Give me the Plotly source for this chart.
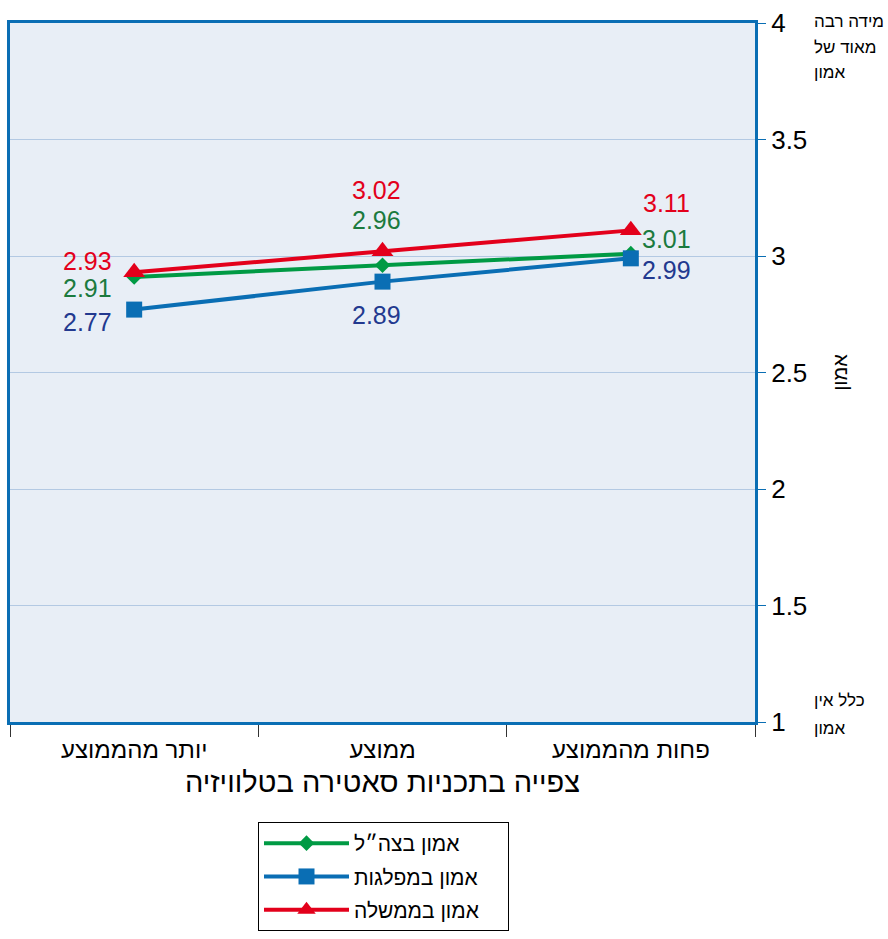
import plotly.graph_objects as go

# ---- data ----
categories = ["יותר מהממוצע", "ממוצע", "פחות מהממוצע"]
series_names = ["אמון בצה״ל", "אמון במפלגות", "אמון בממשלה"]
army_values = [2.91, 2.96, 3.01]
parties_values = [2.77, 2.89, 2.99]
government_values = [2.93, 3.02, 3.11]
y_tick_values = [1, 1.5, 2, 2.5, 3, 3.5, 4]
y_tick_labels = ["1", "1.5", "2", "2.5", "3", "3.5", "4"]
x_title = "צפייה בתכניות סאטירה בטלוויזיה"
y_title = "אמון"
top_note_lines = ["מידה רבה", "מאוד של", "אמון"]
bottom_note_lines = ["כלל אין", "אמון"]

# ---- styles ----
FONT = "Liberation Sans, Arial, sans-serif"
W, H = 888, 939
ML, MR, MT, MB = 10, 133, 23, 217
PW, PH = W - ML - MR, H - MT - MB
LEGEND_PAD = "\u00a0" * 4

styles = [
    dict(line="#009a44", label="#1b7a3e", symbol="diamond", size=12,
         offsets=[(-47, -11), (-6, 45), (36, 15)]),
    dict(line="#0a6eb4", label="#22398f", symbol="square", size=16,
         offsets=[(-47, -12), (-6, -33), (36, -12)]),
    dict(line="#e3001b", label="#e3001b", symbol="triangle-up", size=19,
         offsets=[(-47, 11), (-6, 61), (36, 27)]),
]
all_values = [army_values, parties_values, government_values]


def px_to_paper(px, py):
    return (px - ML) / PW, (H - MB - py) / PH


fig = go.Figure()
annotations = []
for name, vals, st in zip(series_names, all_values, styles):
    fig.add_trace(go.Scatter(
        x=categories, y=vals, name=name + LEGEND_PAD, mode="lines+markers",
        line=dict(color=st["line"], width=4),
        marker=dict(symbol=st["symbol"], size=st["size"], color=st["line"]),
        legendgroup=name,
    ))
    for c, v, (dx, dy) in zip(categories, vals, st["offsets"]):
        annotations.append(dict(
            x=c, y=v, xref="x", yref="y", text=f"{v:.2f}", showarrow=False,
            xshift=dx, yshift=dy, font=dict(family=FONT, size=25, color=st["label"]),
        ))

note_x = 812
for line, cy in zip(top_note_lines, [21, 47, 72]):
    px, py = px_to_paper(note_x, cy)
    annotations.append(dict(
        x=px, y=py, xref="paper", yref="paper", xanchor="left", yanchor="middle",
        text=line, showarrow=False, font=dict(family=FONT, size=17, color="black"),
    ))
for line, cy in zip(bottom_note_lines, [700, 728]):
    px, py = px_to_paper(note_x, cy)
    annotations.append(dict(
        x=px, y=py, xref="paper", yref="paper", xanchor="left", yanchor="middle",
        text=line, showarrow=False, font=dict(family=FONT, size=17, color="black"),
    ))

lx, ly = px_to_paper(258, 822)
fig.update_layout(
    width=W, height=H,
    margin=dict(l=ML, r=MR, t=MT, b=MB, autoexpand=False),
    paper_bgcolor="white",
    plot_bgcolor="#e8eef6",
    font=dict(family=FONT, color="black"),
    showlegend=True,
    legend=dict(
        x=lx, y=ly, xanchor="left", yanchor="top",
        bgcolor="white", bordercolor="black", borderwidth=1,
        font=dict(family=FONT, size=21, color="black"),
        tracegroupgap=3, itemwidth=85,
        traceorder="grouped",
    ),
    annotations=annotations,
)

fig.update_xaxes(
    type="category", categoryorder="array", categoryarray=categories,
    range=[-0.5, len(categories) - 0.5], automargin=False,
    showline=True, linecolor="#0a6eb4", linewidth=3, mirror=True,
    showgrid=False, ticks="outside", tickson="boundaries", ticklen=12,
    tickcolor="#333333", tickwidth=1, ticklabelstandoff=4,
    tickfont=dict(family=FONT, size=24, color="black"),
    title=dict(text=x_title, font=dict(family=FONT, size=29, color="black"), standoff=10),
    zeroline=False,
)
fig.update_yaxes(
    side="right", range=[1, 4], automargin=False,
    tickvals=y_tick_values, ticktext=y_tick_labels,
    showline=True, linecolor="#0a6eb4", linewidth=3, mirror=True,
    showgrid=True, gridcolor="#b3c9e3", gridwidth=1,
    ticks="outside", ticklen=8, tickcolor="#0a6eb4", tickwidth=1,
    tickfont=dict(family=FONT, size=26, color="black"),
    title=dict(text=y_title, font=dict(family=FONT, size=20, color="black"), standoff=27),
    zeroline=False,
)

fig.write_html("out.html", config={"displayModeBar": False},
               post_script="document.body.style.margin='0px';")
